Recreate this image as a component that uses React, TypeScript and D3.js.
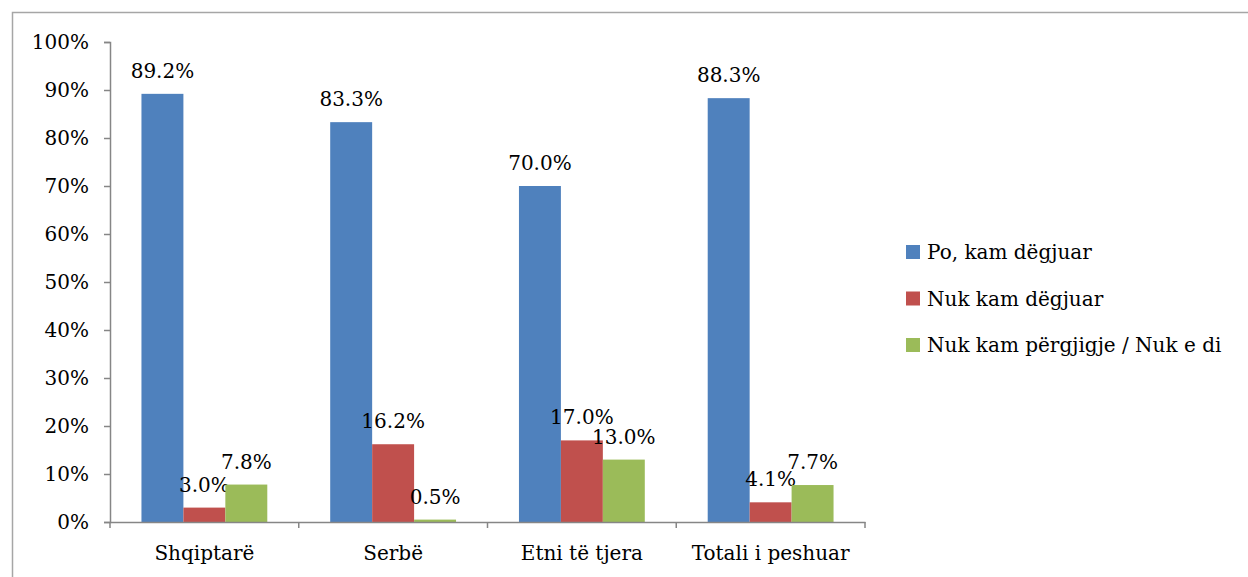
import React, { useEffect, useRef } from "react";
import * as d3 from "d3";

const categories = ["Shqiptarë", "Serbë", "Etni të tjera", "Totali i peshuar"];
const seriesNames = ["Po, kam dëgjuar", "Nuk kam dëgjuar", "Nuk kam përgjigje / Nuk e di"];
const poKam = [89.2, 83.3, 70.0, 88.3];
const nukKam = [3.0, 16.2, 17.0, 4.1];
const nukPergjigje = [7.8, 0.5, 13.0, 7.7];
const colors = ["#4F81BD", "#C0504D", "#9BBB59"];
const yTicks = [0, 10, 20, 30, 40, 50, 60, 70, 80, 90, 100];

const App = () => {
  const ref = useRef<SVGSVGElement>(null);

  useEffect(() => {
    const svg = d3.select(ref.current);
    svg.selectAll("*").remove();
    const font = "\"DejaVu Serif\", serif";
    const series = [poKam, nukKam, nukPergjigje];

    // outer frame
    svg
      .append("rect")
      .attr("x", 12.5)
      .attr("y", 12.5)
      .attr("width", 1300)
      .attr("height", 700)
      .attr("fill", "none")
      .attr("stroke", "#a6a6a6")
      .attr("stroke-width", 1.5);

    const left = 110;
    const right = 865;
    const top = 42;
    const bottom = 522;

    const x = d3.scaleBand<string>().domain(categories).range([left, right]);
    const bw = x.bandwidth();
    const xi = d3
      .scaleBand<number>()
      .domain([0, 1, 2])
      .range([bw / 6, (bw * 5) / 6]);
    const y = d3.scaleLinear().domain([0, 100]).range([bottom, top]);

    const axisColor = "#868686";

    // y axis
    const yAxis = d3
      .axisLeft(y)
      .tickValues(yTicks)
      .tickSize(6)
      .tickFormat((d) => `${d}%`);
    const gy = svg.append("g").attr("transform", `translate(${left},0)`).call(yAxis);
    gy.attr("font-family", null);
    gy.select(".domain").attr("stroke", axisColor).attr("stroke-width", 1.5);
    gy.selectAll(".tick line").attr("stroke", axisColor).attr("stroke-width", 1.5);
    gy.selectAll(".tick text")
      .attr("fill", "#000")
      .attr("x", -21)
      .attr("dy", "0.33em");

    // bars
    series.forEach((vals, si) => {
      const g = svg.append("g");
      g.selectAll("rect")
        .data(vals)
        .enter()
        .append("rect")
        .attr("x", (d, i) => (x(categories[i]) as number) + (xi(si) as number))
        .attr("y", (d) => y(d))
        .attr("width", xi.bandwidth())
        .attr("height", (d) => y(0) - y(d))
        .attr("fill", colors[si]);
      g.selectAll("text")
        .data(vals)
        .enter()
        .append("text")
        .attr("x", (d, i) => (x(categories[i]) as number) + (xi(si) as number) + xi.bandwidth() / 2)
        .attr("y", (d) => y(d) - 16)
        .attr("text-anchor", "middle")
        .attr("fill", "#000")
        .text((d) => `${d.toFixed(1)}%`);
    });

    // x axis
    const xAxis = d3.axisBottom(x).tickSize(0).tickSizeOuter(0);
    const gx = svg.append("g").attr("transform", `translate(0,${bottom})`).call(xAxis);
    gx.attr("font-family", null);
    gx.select(".domain").attr("stroke", axisColor).attr("stroke-width", 1.5);
    gx.selectAll(".tick text")
      .attr("fill", "#000")
      .attr("y", 38)
      .attr("dy", 0);
    const boundaries = [...categories.map((c) => x(c) as number), right];
    gx.selectAll(".sep")
      .data(boundaries)
      .enter()
      .append("line")
      .attr("x1", (d) => d)
      .attr("x2", (d) => d)
      .attr("y1", 0)
      .attr("y2", 6)
      .attr("stroke", axisColor)
      .attr("stroke-width", 1.5);

    // legend
    const legend = svg.append("g").attr("transform", "translate(906,0)");
    seriesNames.forEach((name, i) => {
      const cy = 252 + i * 46.5;
      legend
        .append("rect")
        .attr("x", 0)
        .attr("y", cy - 7)
        .attr("width", 14)
        .attr("height", 14)
        .attr("fill", colors[i]);
      legend
        .append("text")
        .attr("x", 21)
        .attr("y", cy)
        .attr("dy", "0.35em")
        .attr("fill", "#000")
        .text(name);
    });

    svg.selectAll("text").attr("font-size", null).style("font-family", font).style("font-size", "20px");
  }, []);

  return (
    <svg
      ref={ref}
      width={1248}
      height={577}
      style={{ position: "absolute", left: 0, top: 0, background: "#fff" }}
    />
  );
};

export default App;
